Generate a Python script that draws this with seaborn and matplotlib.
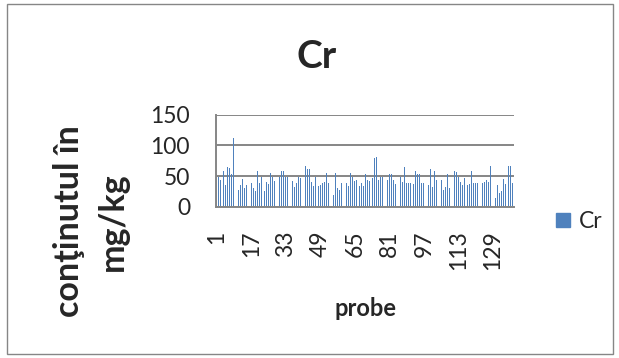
import matplotlib
matplotlib.use("Agg")
import matplotlib.pyplot as plt
import matplotlib.patches as mpatches
import seaborn as sns
import pandas as pd

# ---- data ----
values = [
    54, 49, 43, 58, 36, 64, 63, 53, 112, 57, 28, 35, 45, 30, 35, 41, 39,
    30, 25, 58, 39, 48, 26, 41, 37, 55, 48, 42, 60, 49, 59, 58, 48, 48,
    22, 42, 32, 39, 48, 46, 46, 66, 62, 62, 41, 33, 48, 34, 35, 39, 41, 55,
    39, 44, 19, 55, 31, 27, 39, 39, 39, 33, 55, 49, 42, 43, 33, 39, 33, 54,
    44, 42, 46, 79, 81, 43, 49, 49, 35, 44, 54, 53, 43, 37, 51, 49, 40,
    65, 39, 39, 38, 37, 59, 54, 54, 38, 38, 35, 35, 61, 32, 59, 43, 46, 43,
    27, 32, 54, 31, 44, 58, 56, 48, 41, 35, 47, 35, 37, 58, 38, 39, 39,
    38, 38, 41, 43, 40, 66, 25, 15, 35, 23, 25, 45, 37, 66, 67, 39,
]
probes = list(range(1, len(values) + 1))
xtick_labels = [str(p) for p in probes if (p - 1) % 16 == 0]
yticks = [0, 50, 100, 150]
series_name = "Cr"
title = "Cr"
xlabel = "probe"
ylabel = "conţinutul în\nmg/kg"

df = pd.DataFrame({"probe": [str(p) for p in probes], "value": values})

sns.set_style("white")
plt.rcParams["font.family"] = ["Lato", "DejaVu Sans"]

W, H = 619, 358
fig = plt.figure(figsize=(W / 100, H / 100), dpi=100)
fig.patch.set_facecolor("white")

left, right, top, bottom = 215.5, 513.5, 114.7, 206.7
ax = fig.add_axes([left / W, 1 - bottom / H, (right - left) / W, (bottom - top) / H])

bar_color = "#4F81BD"
grid_color = "#868686"

sns.barplot(data=df, x="probe", y="value", color=bar_color, saturation=1,
            width=0.42, linewidth=0, ax=ax, errorbar=None)

ax.set_xlim(-0.5, len(values) - 0.5)
ax.set_ylim(0, 150)
ax.set_yticks(yticks)
ax.set_yticklabels([str(v) for v in yticks], fontsize=16.5)
ax.set_xticks([p - 1 for p in probes if (p - 1) % 16 == 0])
ax.set_xticklabels(xtick_labels, rotation=90, fontsize=16.5, va="top", ha="center")
ax.set_xlabel("")
ax.set_ylabel("")

ax.set_axisbelow(True)
ax.yaxis.grid(True, color=grid_color, linewidth=1.4)
ax.xaxis.grid(False)
ax.tick_params(axis="y", length=5.8, width=1.4, color=grid_color, pad=12.5)
ax.tick_params(axis="x", length=0, pad=17)
for s in ["top", "right"]:
    ax.spines[s].set_visible(False)
for s in ["left", "bottom"]:
    ax.spines[s].set_color(grid_color)
    ax.spines[s].set_linewidth(1.4)

# title
fig.text(317 / W, 1 - 68 / H, title, ha="center", va="baseline",
         fontsize=28, fontweight="bold")
# x axis title
fig.text(365 / W, 1 - 316 / H, xlabel, ha="center", va="baseline",
         fontsize=17, fontweight="bold")
# y axis title
fig.text(91 / W, 1 - 221.5 / H, ylabel, ha="center", va="center",
         rotation=90, fontsize=24.5, fontweight="bold", multialignment="center",
         linespacing=1.45)

# legend
handle = mpatches.Patch(color=bar_color, label=series_name)
fig.legend(handles=[handle], loc="center left",
           bbox_to_anchor=(556 / W, 1 - 221.5 / H), frameon=False,
           fontsize=16.5, handlelength=0.6, handleheight=0.6,
           handletextpad=0.4, borderpad=0, borderaxespad=0)

# chart border
fig.add_artist(mpatches.Rectangle((6.5 / W, 1 - 354 / H), (613 - 6.5) / W,
                                  (354 - 3.5) / H, transform=fig.transFigure,
                                  fill=False, edgecolor=grid_color, linewidth=1.0))

fig.savefig("out.png", dpi=100, facecolor="white")
